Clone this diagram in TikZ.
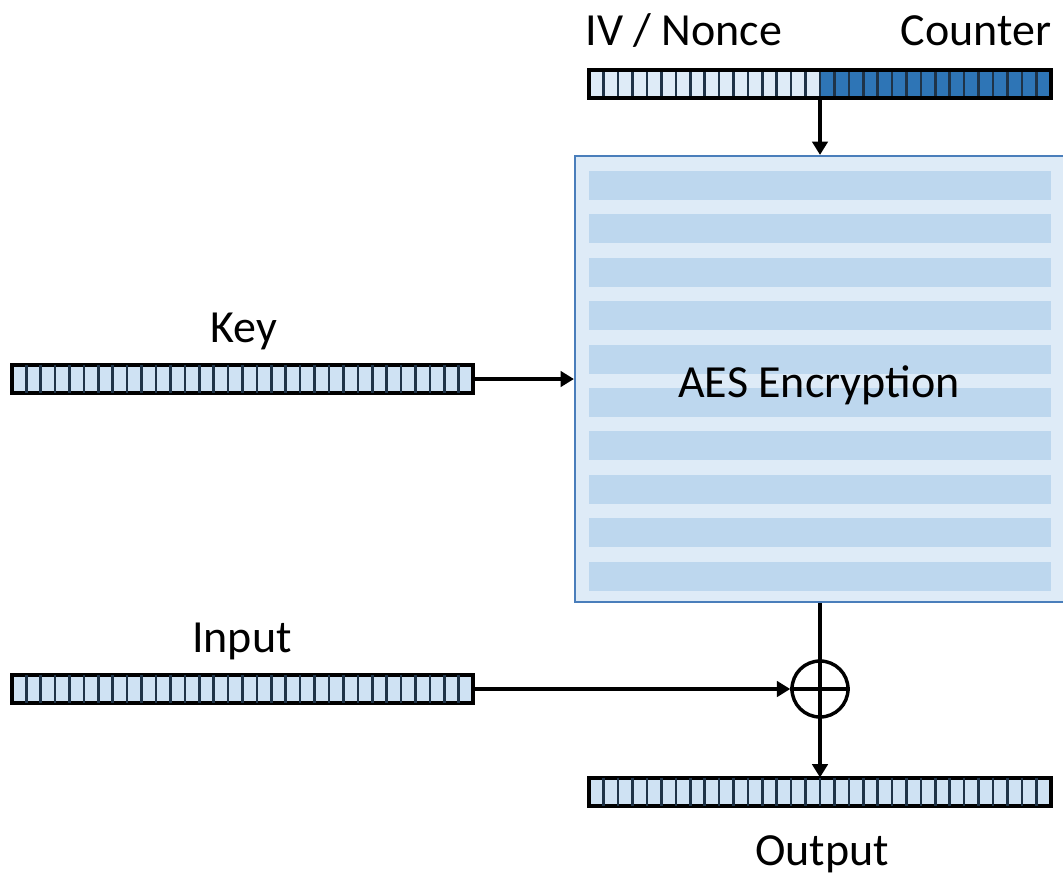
\documentclass[tikz,border=0pt]{standalone}
\usepackage{fontspec}
\setmainfont{Carlito}
\usetikzlibrary{arrows.meta,calc}

\definecolor{celllight}{HTML}{DEEBF7}
\definecolor{cellkey}{HTML}{CFE2F3}
\definecolor{ctrblue}{HTML}{2E75B6}
\definecolor{stripe}{HTML}{BDD7EE}
\definecolor{aesedge}{HTML}{4A7EBB}
\definecolor{divline}{HTML}{1F3347}

\tikzset{
  bitbar/.style={rectangle, draw=black, line width=3pt, fill=cellkey,
    minimum width=346pt, minimum height=21pt, inner sep=0pt, outer sep=0pt},
  divider/.style={draw=divline, line width=1.9pt},
  flow/.style={line width=2.6pt, -{Triangle[width=11.5pt,length=10pt]}},
  wire/.style={line width=2.6pt},
  lbl/.style={font=\fontsize{34.5}{41}\selectfont, anchor=base, inner sep=0pt},
}

\begin{document}
\begin{tikzpicture}[x=0.75pt,y=-0.75pt]
\useasboundingbox (0,0) rectangle (1063,875);

  % AES block with its round stripes
  \node[rectangle, draw=aesedge, line width=1.6pt, fill=celllight,
        minimum width=367.5pt, minimum height=334.5pt, inner sep=0pt] (aes) at (820,379) {};
  \foreach \i in {0,...,9}{
    \fill[stripe] (589,171+43.4*\i) rectangle (1051,200+43.4*\i);
  }
  \node[lbl] (aeslbl) at (819,397) {AES Encryption};

  % Bit registers
  \node[bitbar, fill=celllight] (iv) at (820,84) {};
  \node[bitbar] (key) at (242.5,379) {};
  \node[bitbar] (input) at (242.5,689) {};
  \node[bitbar] (output) at (820,791.5) {};
  \fill[ctrblue] (iv.north) rectangle (iv.south east);

  % 32 cells per register
  \foreach \b in {iv,key,input,output}{
    \foreach \i in {1,...,31}{
      \draw[divider] ($(\b.north west)!\i/32!(\b.north east)$) -- ($(\b.south west)!\i/32!(\b.south east)$);
    }
  }
  \draw[line width=3pt] (iv.north west) rectangle (iv.south east);

  % Labels
  \node[lbl] (ivlbl) at (684,45) {IV / Nonce};
  \node[lbl] (ctrlbl) at (976,45) {Counter};
  \node[lbl] (keylbl) at (244,342) {Key};
  \node[lbl] (inlbl) at (242,652) {Input};
  \node[lbl] (outlbl) at (822,865) {Output};

  % XOR
  \node[circle, draw, line width=2.6pt, minimum size=42pt, inner sep=0pt] (xor) at (820,689) {};

  % Connections
  \draw[flow] (iv.south) -- (aes.north);
  \draw[flow] (key.east) -- (aes.west);
  \draw[wire] (aes.south) -- (xor.north);
  \draw[wire] (xor.north) -- (xor.south) (xor.west) -- (xor.east);
  \draw[flow] (input.east) -- (xor.west);
  \draw[flow] (xor.south) -- (output.north);
\end{tikzpicture}
\end{document}
